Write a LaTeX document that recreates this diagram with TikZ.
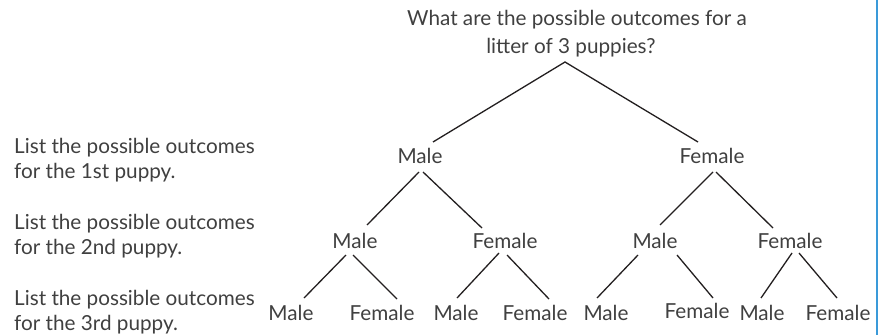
\documentclass[tikz,border=0pt]{standalone}
\usepackage{fontspec}
\setmainfont{Lato}
\definecolor{txt}{HTML}{404040}
\definecolor{ln}{HTML}{231F20}
\definecolor{edge}{HTML}{3A9AD9}
\begin{document}
\begin{tikzpicture}[x=1pt,y=-1pt,
  lbl/.style={inner sep=0pt,anchor=base,text=txt,font=\fontsize{20.7}{24}\selectfont},
  side/.style={inner sep=0pt,anchor=base west,text=txt,font=\fontsize{20.7}{24}\selectfont},
  br/.style={draw=ln,line width=1.3pt}]
\fill[white] (0,0) rectangle (880,335);
\useasboundingbox (0,0) rectangle (880,335);
\draw[edge,line width=1.6pt] (877,0) -- (877,335);
% question
\node[lbl] (q1) at (577,25) {What are the possible outcomes for a};
\node[lbl] (q2) at (571,53) {litter of 3 puppies?};
% side labels
\node[side] (s1a) at (14,153) {List the possible outcomes};
\node[side] (s1b) at (14,178) {for the 1st puppy.};
\node[side] (s2a) at (14,229) {List the possible outcomes};
\node[side] (s2b) at (14,254) {for the 2nd puppy.};
\node[side] (s3a) at (14,305) {List the possible outcomes};
\node[side] (s3b) at (14,330) {for the 3rd puppy.};
% level 1
\node[lbl] (m) at (420,163) {Male};
\node[lbl] (f) at (712,163) {Female};
% level 2
\node[lbl] (mm) at (355,248) {Male};
\node[lbl] (mf) at (505,248) {Female};
\node[lbl] (fm) at (655,248) {Male};
\node[lbl] (ff) at (790,248) {Female};
% level 3
\node[lbl] (mmm) at (291,320) {Male};
\node[lbl] (mmf) at (382,320) {Female};
\node[lbl] (mfm) at (456,320) {Male};
\node[lbl] (mff) at (535,320) {Female};
\node[lbl] (fmm) at (606,320) {Male};
\node[lbl] (fmf) at (697,318) {Female};
\node[lbl] (ffm) at (762,320) {Male};
\node[lbl] (fff) at (838,320) {Female};
% branches
\draw[br] ([shift={(13,-21)}]m.base) -- ([shift={(-6,9)}]q2.base) -- ([shift={(-14,-21)}]f.base);
\draw[br] ([shift={(-1,9)}]m.base) -- ([shift={(12,-23)}]mm.base);
\draw[br] ([shift={(3,9)}]m.base) -- ([shift={(-23,-20)}]mf.base);
\draw[br] ([shift={(1,9)}]f.base) -- ([shift={(5,-23)}]fm.base);
\draw[br] ([shift={(4,9)}]f.base) -- ([shift={(-17,-20)}]ff.base);
\draw[br] ([shift={(-9,7)}]mm.base) -- ([shift={(13,-22)}]mmm.base);
\draw[br] ([shift={(-2,7)}]mm.base) -- ([shift={(15,-21)}]mmf.base);
\draw[br] ([shift={(-6,5)}]mf.base) -- ([shift={(1,-22)}]mfm.base);
\draw[br] ([shift={(2,7)}]mf.base) -- ([shift={(14,-21)}]mff.base);
\draw[br] ([shift={(-17,7)}]fm.base) -- ([shift={(-9,-22)}]fmm.base);
\draw[br] ([shift={(22,7)}]fm.base) -- ([shift={(16,-20)}]fmf.base);
\draw[br] ([shift={(2,5)}]ff.base) -- ([shift={(-1,-22)}]ffm.base);
\draw[br] ([shift={(9,5)}]ff.base) -- ([shift={(-1,-22)}]fff.base);
\end{tikzpicture}
\end{document}
